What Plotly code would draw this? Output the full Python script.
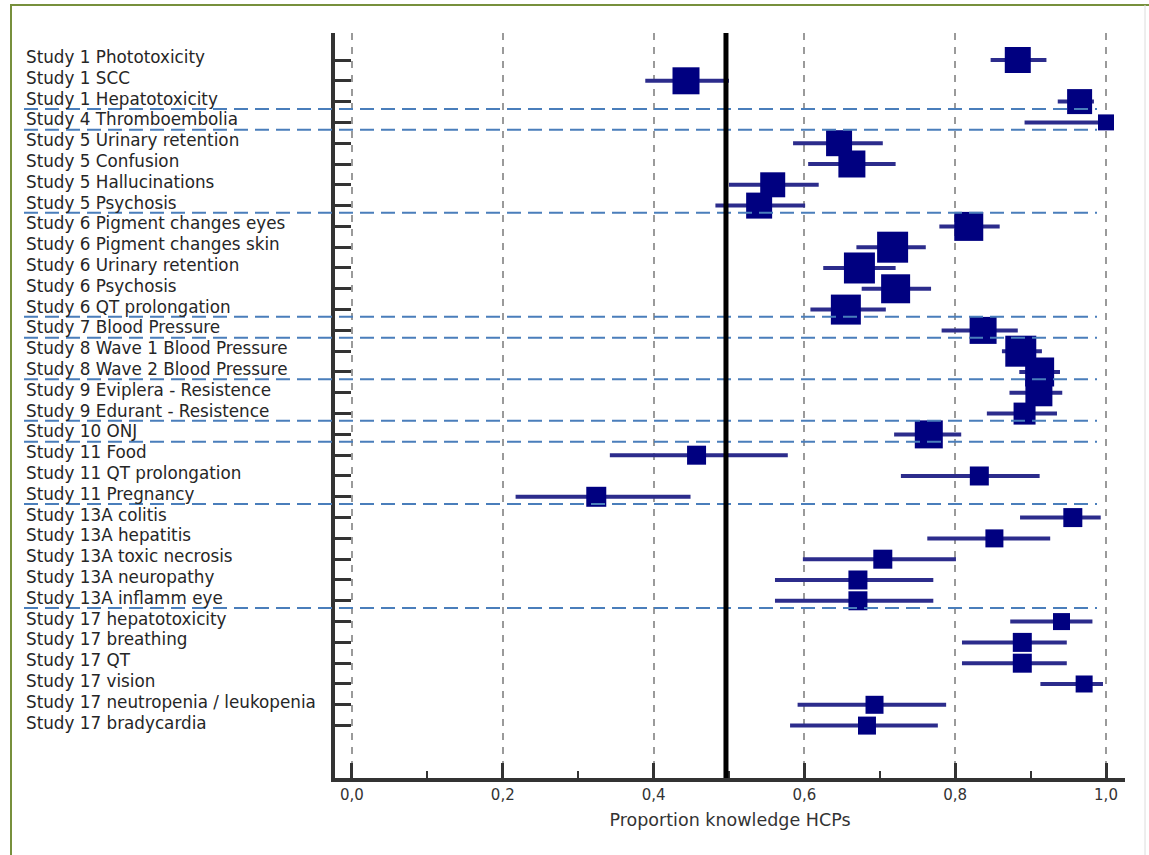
import plotly.graph_objects as go

labels = [
    "Study 1 Phototoxicity", "Study 1 SCC", "Study 1 Hepatotoxicity",
    "Study 4 Thromboembolia",
    "Study 5 Urinary retention", "Study 5 Confusion", "Study 5 Hallucinations", "Study 5 Psychosis",
    "Study 6 Pigment changes eyes", "Study 6 Pigment changes skin", "Study 6 Urinary retention",
    "Study 6 Psychosis", "Study 6 QT prolongation",
    "Study 7 Blood Pressure",
    "Study 8 Wave 1 Blood Pressure", "Study 8 Wave 2 Blood Pressure",
    "Study 9 Eviplera - Resistence", "Study 9 Edurant - Resistence",
    "Study 10 ONJ",
    "Study 11 Food", "Study 11 QT prolongation", "Study 11 Pregnancy",
    "Study 13A colitis", "Study 13A hepatitis", "Study 13A toxic necrosis",
    "Study 13A neuropathy", "Study 13A inflamm eye",
    "Study 17 hepatotoxicity", "Study 17 breathing", "Study 17 QT", "Study 17 vision",
    "Study 17 neutropenia / leukopenia", "Study 17 bradycardia",
]
study = ["1", "1", "1", "4", "5", "5", "5", "5", "6", "6", "6", "6", "6", "7", "8", "8",
         "9", "9", "10", "11", "11", "11", "13A", "13A", "13A", "13A", "13A",
         "17", "17", "17", "17", "17", "17"]

estimate = [0.883, 0.443, 0.965, 1.000, 0.646, 0.663, 0.558, 0.540, 0.818, 0.717, 0.673,
            0.721, 0.655, 0.837, 0.887, 0.912, 0.911, 0.892, 0.765, 0.457, 0.832, 0.324,
            0.956, 0.852, 0.704, 0.671, 0.671, 0.941, 0.889, 0.889, 0.971, 0.693, 0.683]
lower = [0.847, 0.389, 0.936, 0.892, 0.585, 0.605, 0.500, 0.482, 0.779, 0.669, 0.625,
         0.676, 0.608, 0.782, 0.862, 0.885, 0.872, 0.842, 0.719, 0.342, 0.728, 0.217,
         0.886, 0.763, 0.598, 0.561, 0.561, 0.873, 0.809, 0.809, 0.913, 0.591, 0.581]
upper = [0.921, 0.500, 0.984, 1.000, 0.704, 0.721, 0.619, 0.601, 0.859, 0.761, 0.721,
         0.768, 0.708, 0.883, 0.915, 0.939, 0.942, 0.935, 0.808, 0.578, 0.912, 0.449,
         0.993, 0.926, 0.801, 0.771, 0.771, 0.982, 0.948, 0.948, 0.996, 0.788, 0.777]
reference_value = 0.496

# marker sizes (px), proportional to study weight as drawn in the reference
marker_size = [26, 27, 25, 16, 26, 27, 25, 26, 29, 31, 31, 29, 30, 27, 31, 29, 27, 22, 28,
               19, 19, 20, 19, 18, 19, 19, 19, 17, 19, 19, 17, 18, 18]

x_ticks = [0.0, 0.2, 0.4, 0.6, 0.8, 1.0]

rows = list(range(len(labels)))

fig = go.Figure()
fig.add_trace(go.Scatter(
    x=estimate, y=rows, mode="markers",
    marker=dict(symbol="square", size=marker_size, color="#000080", opacity=1,
                line=dict(width=0)),
    error_x=dict(type="data", symmetric=False,
                 array=[u - e for u, e in zip(upper, estimate)],
                 arrayminus=[e - l for e, l in zip(estimate, lower)],
                 color="#2c2c8c", thickness=4, width=0),
    showlegend=False, hoverinfo="x+y",
))

W, H = 1149, 855
ml, mr, mt, mb = 335, 24, 33, 77
pw, ph = W - ml - mr, H - mt - mb


def px_x(p):
    return (p - ml) / pw


def px_y(p):
    return (H - mb - p) / ph


shapes = []
# group separators
for i in range(len(study) - 1):
    if study[i] != study[i + 1]:
        yv = i + 0.35
        shapes.append(dict(type="line", xref="paper", yref="y", x0=px_x(24), x1=px_x(1097),
                           y0=yv, y1=yv, line=dict(color="#4a7ebb", width=2, dash="14px,7px"),
                           layer="above"))
# reference line
shapes.append(dict(type="line", xref="x", yref="paper", x0=reference_value, x1=reference_value,
                   y0=0, y1=1, line=dict(color="#000000", width=5), layer="above"))
# outer frame
shapes.append(dict(type="line", xref="paper", yref="paper", x0=px_x(10), x1=px_x(1149),
                   y0=px_y(5), y1=px_y(5), line=dict(color="#77903c", width=2)))
shapes.append(dict(type="line", xref="paper", yref="paper", x0=px_x(11), x1=px_x(11),
                   y0=px_y(5), y1=px_y(860), line=dict(color="#77903c", width=2)))
shapes.append(dict(type="line", xref="paper", yref="paper", x0=px_x(1145), x1=px_x(1145),
                   y0=px_y(5), y1=px_y(860), line=dict(color="#dcdcdc", width=1)))

annotations = []
for r, lab in zip(rows, labels):
    annotations.append(dict(text=lab, xref="paper", yref="y", x=px_x(24), y=r,
                            xanchor="left", yanchor="middle", yshift=3, showarrow=False,
                            font=dict(family="DejaVu Sans", size=16.8, color="#262626")))

fig.update_layout(
    width=W, height=H, margin=dict(l=ml, r=mr, t=mt, b=mb),
    paper_bgcolor="white", plot_bgcolor="white",
    separators=",.",
    shapes=shapes, annotations=annotations,
    xaxis=dict(range=[-0.0225, 1.0252], tickvals=x_ticks, tickformat=".1f",
               showgrid=True, gridcolor="#9a9a9a", gridwidth=2, griddash="7px,7px",
               zeroline=False, showline=True, linecolor="#333333", linewidth=4,
               ticks="inside", ticklen=15, tickwidth=3, tickcolor="#333333",
               minor=dict(dtick=0.1, tick0=0, ticks="inside", ticklen=7, tickwidth=2,
                          tickcolor="#333333", showgrid=False),
               tickfont=dict(family="DejaVu Sans", size=15, color="#333333"),
               title=dict(text="Proportion knowledge HCPs", standoff=12,
                          font=dict(family="DejaVu Sans", size=17.5, color="#333333"))),
    yaxis=dict(range=[34.52, -1.298], tickvals=rows, showticklabels=False,
               showgrid=False, zeroline=False, showline=True, linecolor="#333333", linewidth=4,
               ticks="inside", ticklen=16, tickwidth=3, tickcolor="#333333"),
)

fig.write_html("out.html", config={"displayModeBar": False},
               post_script="document.body.style.margin='0';")
